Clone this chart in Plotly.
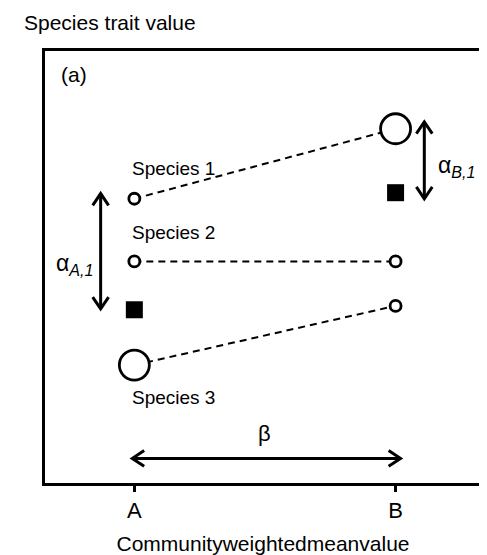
import plotly.graph_objects as go

# ---- data ----
communities = ["A", "B"]
community_x = [0, 1]
species_labels = ["Species 1", "Species 2", "Species 3"]
species1_trait = [6.58, 8.20]
species2_trait = [5.13, 5.13]
species3_trait = [2.73, 4.10]
species1_abundance = [1, 3]
species2_abundance = [1, 1]
species3_abundance = [3, 1]
cwm_trait = [4.01, 6.72]

FONT = "Liberation Sans, Arial, Helvetica, sans-serif"
SMALL = 11
BIG = 30


def size_of(ab):
    return [SMALL if a == 1 else BIG for a in ab]


fig = go.Figure()

species = [(species1_trait, species1_abundance),
           (species2_trait, species2_abundance),
           (species3_trait, species3_abundance)]

# dashed connecting lines first
for trait, ab in species:
    fig.add_trace(go.Scatter(
        x=community_x, y=trait, mode="lines",
        line=dict(color="black", width=2, dash="7px,5px"),
        showlegend=False, hoverinfo="skip"))

# hollow (white-filled) circles on top
for trait, ab in species:
    fig.add_trace(go.Scatter(
        x=community_x, y=trait, mode="markers",
        marker=dict(symbol="circle", size=size_of(ab), color="white",
                    opacity=1, line=dict(color="#000000", width=2.8)),
        showlegend=False, hoverinfo="skip"))

fig.add_trace(go.Scatter(
    x=community_x, y=cwm_trait, mode="markers",
    marker=dict(symbol="square", size=17, color="black", opacity=1,
                line=dict(width=0)),
    showlegend=False, hoverinfo="skip"))

# ---- arrows (drawn from data values) ----
XPX = 263.0   # px per x unit
YPX = 43.9    # px per y unit
HW, DEP = 8, 12  # chevron half-width and depth in px


def vert_arrow(x, y0, y1):
    dx = HW / XPX
    dy = DEP / YPX
    xs = [x, x, None, x - dx, x, x + dx, None, x - dx, x, x + dx]
    ys = [y0, y1, None, y1 - dy, y1, y1 - dy, None, y0 + dy, y0, y0 + dy]
    return xs, ys


def horiz_arrow(y, x0, x1):
    dx = DEP / XPX
    dy = HW / YPX
    xs = [x0, x1, None, x1 - dx, x1, x1 - dx, None, x0 + dx, x0, x0 + dx]
    ys = [y, y, None, y - dy, y, y + dy, None, y - dy, y, y + dy]
    return xs, ys


arrows = [
    vert_arrow(community_x[0] - 0.129, cwm_trait[0] + 0.02, species1_trait[0] + 0.12),
    vert_arrow(community_x[1] + 0.11, cwm_trait[1] - 0.14, species1_trait[1] + 0.16),
    horiz_arrow(0.57, community_x[0] - 0.008, community_x[1] + 0.019),
]
for xs, ys in arrows:
    fig.add_trace(go.Scatter(
        x=xs, y=ys, mode="lines",
        line=dict(color="black", width=3),
        showlegend=False, hoverinfo="skip"))

annos = [
    dict(x=-0.015, y=species1_trait[0] + 0.71, text=species_labels[0], xanchor="left", size=19),
    dict(x=-0.015, y=species2_trait[0] + 0.66, text=species_labels[1], xanchor="left", size=19),
    dict(x=-0.015, y=species3_trait[0] - 0.75, text=species_labels[2], xanchor="left", size=19),
    dict(x=-0.228, y=5.06, text="α<sub><i>A,1</i></sub>", xanchor="center", size=23),
    dict(x=1.232, y=7.33, text="α<sub><i>B,1</i></sub>", xanchor="center", size=23),
    dict(x=0.5, y=1.14, text="β", xanchor="center", size=22),
]
for a in annos:
    fig.add_annotation(x=a["x"], y=a["y"], xref="x", yref="y", text=a["text"],
                       showarrow=False, xanchor=a["xanchor"], yanchor="middle",
                       font=dict(family=FONT, size=a["size"], color="black"))

fig.add_annotation(x=-0.052, y=1.066, xref="paper", yref="paper",
                   text="Species trait value", showarrow=False,
                   xanchor="left", yanchor="middle",
                   font=dict(family=FONT, size=21, color="black"))
fig.add_annotation(x=0.032, y=0.945, xref="paper", yref="paper",
                   text="(a)", showarrow=False, xanchor="left", yanchor="middle",
                   font=dict(family=FONT, size=21, color="black"))

fig.update_xaxes(range=[-0.342, 1.327], showline=True, mirror=True, linewidth=3,
                 linecolor="black", ticks="outside", ticklen=6, tickwidth=3,
                 tickcolor="black", tickvals=community_x, ticktext=communities,
                 tickfont=dict(family=FONT, size=22, color="black"),
                 showgrid=False, zeroline=False,
                 title=dict(text="Communityweightedmeanvalue", standoff=14,
                            font=dict(family=FONT, size=21, color="black")))
fig.update_yaxes(range=[0, 10], showline=True, mirror=True, linewidth=3,
                 linecolor="black", showticklabels=False, ticks="",
                 showgrid=False, zeroline=False)

fig.update_layout(width=487, height=555,
                  margin=dict(l=37, r=11, t=43, b=73),
                  plot_bgcolor="white", paper_bgcolor="white",
                  font=dict(family=FONT, color="black"))

fig.write_html("out.html")
